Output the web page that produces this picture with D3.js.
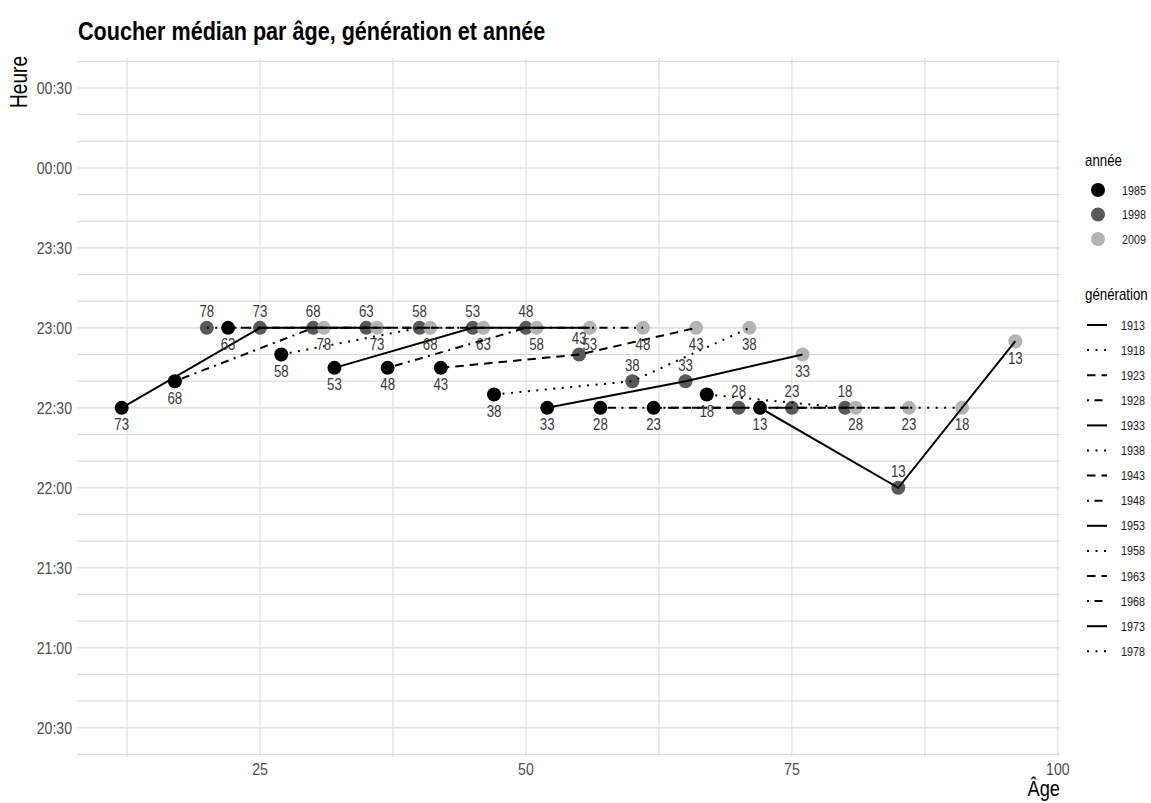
<!DOCTYPE html>
<html><head><meta charset="utf-8">
<script src="https://cdn.jsdelivr.net/npm/d3@7"></script>
<style>
body{margin:0;background:#fff;}
svg{display:block;font-family:"Liberation Sans",Arial,sans-serif;}
</style></head>
<body><svg id="chart" width="1151" height="803"></svg>
<script>
// ---- data ----
const generations = [1913,1918,1923,1928,1933,1938,1943,1948,1953,1958,1963,1968,1973,1978];
const years = [1985,1998,2009];
// median bedtime per generation (same order as generations), one array per survey year
const bed1985 = ["22:30","22:35","22:30","22:30","22:30","22:35","22:45","22:45","22:45","22:50","23:00","22:40","22:30",null];
const bed1998 = ["22:00","22:30","22:30","22:30","22:40","22:40","22:50","23:00","23:00","23:00","23:00","23:00","23:00","23:00"];
const bed2009 = ["22:55","22:30","22:30","22:30","22:50","23:00","23:00","23:00","23:00","23:00","23:00","23:00","23:00","23:00"];
const yearColors = ["#000000","#595959","#b3b3b3"];
const lineTypes = ["solid","dotted","dashed","dotdash"];
const xTicks = [25,50,75,100];
const yTickLabels = ["20:30","21:00","21:30","22:00","22:30","23:00","23:30","00:00","00:30"];

// ---- helpers ----
function toMin(s){ const [h,m]=s.split(":").map(Number); return (h<12?h+24:h)*60+m; }
const SX = 0.83; // condensed look
function ntext(parent, x, y, str, o){
  o = o||{};
  const gg = parent.append("g").attr("transform",`translate(${x},${y})${o.rotate?` rotate(${o.rotate})`:""} scale(${SX},1)`);
  return gg.append("text").attr("x",0).attr("y",0)
    .attr("text-anchor",o.anchor||"start")
    .attr("dy",o.dy||null)
    .attr("font-size",o.size||14)
    .attr("font-weight",o.weight||null)
    .attr("fill",o.fill||"#000")
    .text(str);
}
const bedByYear = [bed1985,bed1998,bed2009];
const rows = [];
years.forEach((yr,yi)=>{
  generations.forEach((g,gi)=>{
    const v = bedByYear[yi][gi];
    if(v!==null) rows.push({year:yr, yi, gen:g, gi, age:yr-g, t:toMin(v)});
  });
});

const svg = d3.select("#chart");
const pl=77, pr=1060, pt=58, pb=757;
const x = d3.scaleLinear().domain([7.8,100.2]).range([pl,pr]);
const y = d3.scaleLinear().domain([toMin("20:19"), toMin("00:41")+0.25]).range([pb,pt]);

const dash = {solid:null, dotted:"2,6.5", dashed:"8.5,6", dotdash:"2,5.5,8,5.5"};
const LW = 2;

// grid
const g = svg.append("g");
const xGrid = d3.range(12.5,100.1,12.5);
g.selectAll("line.vx").data(xGrid).join("line")
  .attr("x1",d=>x(d)).attr("x2",d=>x(d)).attr("y1",pt).attr("y2",pb)
  .attr("stroke","#d9d9d9").attr("stroke-width",1);
const yGrid = d3.range(toMin("20:20"), toMin("00:40")+1, 10);
g.selectAll("line.hy").data(yGrid).join("line")
  .attr("x1",pl).attr("x2",pr).attr("y1",d=>y(d)).attr("y2",d=>y(d))
  .attr("stroke",d=>((d%30)===0?"#e2e2e2":"#d6d6d6")).attr("stroke-width",d=>((d%30)===0?1.6:1));

// axis tick labels
const ax = svg.append("g");
xTicks.forEach(v=>ntext(ax, x(v), 775, String(v), {anchor:"middle", size:17, fill:"#4d4d4d"}));
yTickLabels.forEach(s=>ntext(ax, 72, y(toMin(s)), s, {anchor:"end", size:17, fill:"#4d4d4d", dy:"0.35em"}));

// points
svg.append("g").selectAll("circle").data(rows).join("circle")
  .attr("cx",d=>x(d.age)).attr("cy",d=>y(d.t)).attr("r",7)
  .attr("fill",d=>yearColors[d.yi]);

// lines by generation
const line = d3.line().x(d=>x(d.age)).y(d=>y(d.t));
generations.forEach((gen,gi)=>{
  const pts = rows.filter(r=>r.gen===gen).sort((a,b)=>a.year-b.year);
  svg.append("path").datum(pts).attr("d",line)
    .attr("fill","none").attr("stroke","#000").attr("stroke-width",LW)
    .attr("stroke-dasharray",dash[lineTypes[gi%4]]);
});

// labels
const lab = svg.append("g");
rows.forEach(d=>{
  ntext(lab, x(d.age), y(d.t)+(d.year===1998?-16:17), String(d.gen%100).padStart(2,"0"),
    {anchor:"middle", size:16, fill:"#3a3a3a", dy:"0.35em"});
});

// titles
ntext(svg, 78, 40, "Coucher médian par âge, génération et année", {size:26, weight:"bold"});
ntext(svg, 27, pt-2, "Heure", {size:23, anchor:"end", rotate:-90});
ntext(svg, pr, 796, "Âge", {size:22, anchor:"end"});

// legend: année
const lg = svg.append("g");
ntext(lg, 1085, 166, "année", {size:16});
years.forEach((yr,i)=>{
  const cy = 190 + i*24.5;
  lg.append("circle").attr("cx",1098).attr("cy",cy).attr("r",7).attr("fill",yearColors[i]);
  ntext(lg, 1122, cy, String(yr), {size:13, fill:"#1a1a1a", dy:"0.35em"});
});
// legend: génération
ntext(lg, 1085, 300, "génération", {size:16});
generations.forEach((gen,i)=>{
  const cy = 325 + i*25.1;
  lg.append("line").attr("x1",1087).attr("x2",1107).attr("y1",cy).attr("y2",cy)
    .attr("stroke","#000").attr("stroke-width",LW).attr("stroke-dasharray",dash[lineTypes[i%4]]);
  ntext(lg, 1121, cy, String(gen), {size:13, fill:"#1a1a1a", dy:"0.35em"});
});
</script></body></html>
